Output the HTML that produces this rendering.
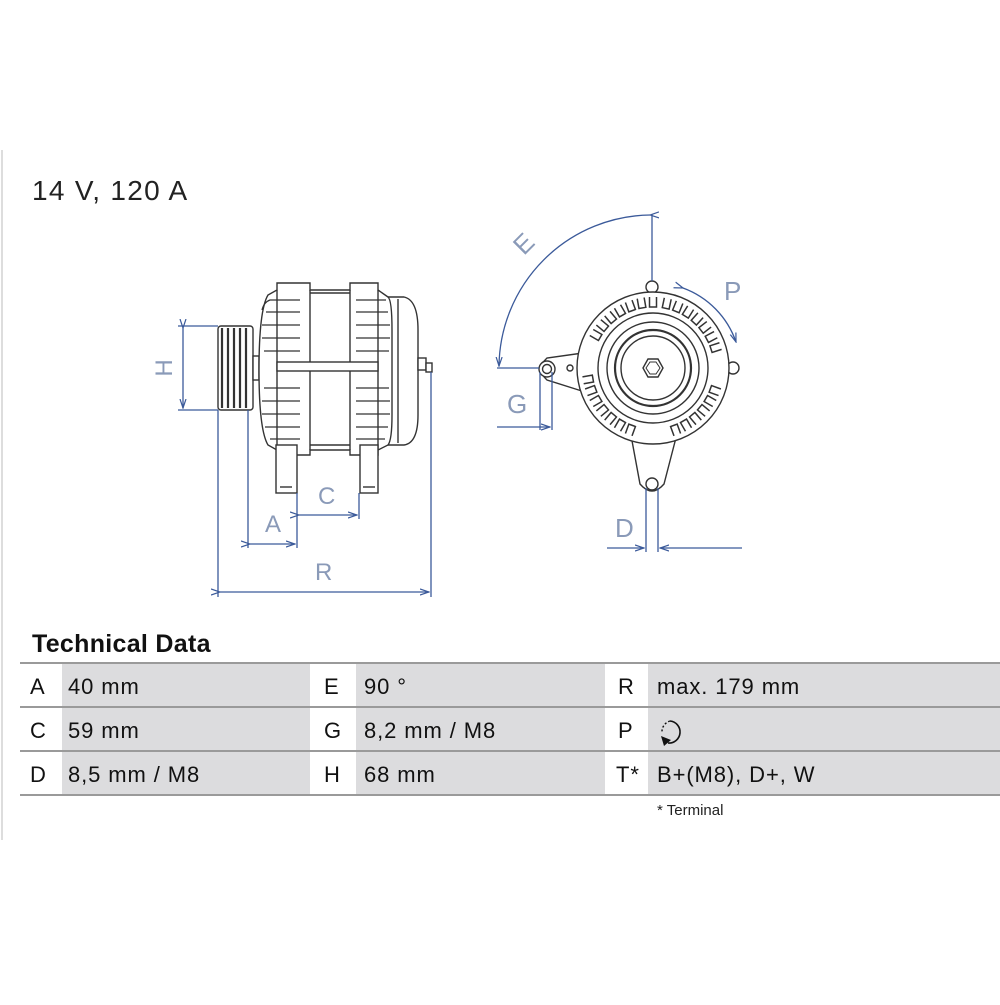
<!DOCTYPE html>
<html><head><meta charset="utf-8"><style>
body{margin:0;background:#fff;width:1000px;height:1000px;overflow:hidden;font-family:"Liberation Sans",sans-serif;}
</style></head><body>
<svg width="1000" height="1000" viewBox="0 0 1000 1000" xmlns="http://www.w3.org/2000/svg" font-family="Liberation Sans, sans-serif">
<defs>
<marker id="ar" markerWidth="10" markerHeight="8" refX="9" refY="4" orient="auto" markerUnits="userSpaceOnUse"><path d="M0,1 L9,4 L0,7" fill="none" stroke="#3b5a9a" stroke-width="1.2"/></marker>
</defs>
<line x1="2" y1="150" x2="2" y2="840" stroke="#ddd" stroke-width="2"/>
<text x="32" y="200" font-size="28" letter-spacing="1.3" fill="#222">14 V, 120 A</text>

<!-- LEFT DRAWING -->
<g stroke="#333" stroke-width="1.4" fill="#fff">
  <rect x="218" y="326" width="35" height="84" rx="3"/>
  <g stroke-width="2.2"><line x1="222" y1="328" x2="222" y2="408"/><line x1="228" y1="328" x2="228" y2="408"/><line x1="234" y1="328" x2="234" y2="408"/><line x1="240" y1="328" x2="240" y2="408"/><line x1="246" y1="328" x2="246" y2="408"/></g>
  <rect x="253" y="356" width="6" height="24"/>
  <path d="M388,297 L404,297 Q418,300 418,330 L418,415 Q418,443 404,445 L388,445 Z"/>
  <line x1="398" y1="299" x2="398" y2="443"/>
  <rect x="418" y="358" width="8" height="12"/><rect x="426" y="363" width="6" height="9"/>
  <path d="M277,290 L277,283 L310,283 L310,290 L350,290 L350,283 L378,283 L378,290 L388,297 Q392,300 392,330 L392,415 Q392,440 388,445 L378,450 L378,455 L350,455 L350,450 L310,450 L310,455 L277,455 L277,450 L268,445 Q259,430 259,370 Q259,310 268,295 Z"/>
  <line x1="310" y1="290" x2="310" y2="450"/><line x1="350" y1="290" x2="350" y2="450"/>
  <line x1="277" y1="290" x2="277" y2="450"/><line x1="378" y1="290" x2="378" y2="450"/>
  <line x1="310" y1="293" x2="350" y2="293"/><line x1="310" y1="445" x2="350" y2="445"/>
  <rect x="277" y="362" width="101" height="9"/>
  <g stroke-width="1.2" fill="none">
    <path d="M300,300 H270 Q264,302 262,310 M300,312 H266 M300,325 H262 M300,338 H262 M300,351 H264"/>
    <path d="M300,388 H264 M300,401 H262 M300,414 H262 M300,427 H265 M300,439 H270"/>
    <path d="M356,300 H386 M356,312 H388 M356,325 H390 M356,338 H390 M356,351 H389"/>
    <path d="M356,388 H389 M356,401 H390 M356,414 H390 M356,427 H388 M356,439 H385"/>
  </g>
  <rect x="276" y="445" width="21" height="48"/><rect x="360" y="445" width="18" height="48"/>
  <line x1="280" y1="487" x2="292" y2="487"/><line x1="363" y1="487" x2="375" y2="487"/>
</g>
<g stroke="#3b5a9a" stroke-width="1.3" fill="none">
  <line x1="178" y1="326" x2="218" y2="326"/><line x1="178" y1="410" x2="218" y2="410"/>
  <line x1="183" y1="328" x2="183" y2="408" marker-end="url(#ar)" marker-start="url(#ar)"/>
  <line x1="218" y1="410" x2="218" y2="597"/><line x1="431" y1="372" x2="431" y2="597"/>
  <line x1="248" y1="410" x2="248" y2="548"/><line x1="297" y1="493" x2="297" y2="548"/>
  <line x1="359" y1="493" x2="359" y2="519"/>
  <line x1="220" y1="592" x2="429" y2="592" marker-end="url(#ar)" marker-start="url(#ar)"/>
  <line x1="250" y1="544" x2="295" y2="544" marker-end="url(#ar)" marker-start="url(#ar)"/>
  <line x1="299" y1="515" x2="357" y2="515" marker-end="url(#ar)" marker-start="url(#ar)"/>
</g>
<g fill="#8a9ab8" font-size="24" font-weight="300">
  <text x="265" y="532">A</text><text x="318" y="504">C</text><text x="315" y="580">R</text>
  <text transform="translate(172,368) rotate(-90)" text-anchor="middle">H</text>
</g>

<!-- RIGHT DRAWING -->
<g stroke="#333" stroke-width="1.4" fill="#fff">
  <path d="M590,352 L547,358 Q535,369 547,380 L585,392 Z"/>
  <path d="M630,430 L640,484 Q652,498 664,484 L678,430 Z"/>
  <circle cx="652" cy="287" r="6"/><circle cx="733" cy="368" r="6"/>
  <circle cx="653" cy="368" r="76"/>
  <circle cx="547" cy="369" r="8"/><circle cx="547" cy="369" r="4.5"/>
  <circle cx="652" cy="484" r="6"/>
  <circle cx="570" cy="368" r="3"/>
  <circle cx="653" cy="368" r="55"/>
  <circle cx="653" cy="368" r="46"/>
  <circle cx="653" cy="368" r="38" stroke-width="2.2"/>
  <circle cx="653" cy="368" r="32"/>
  <polygon points="643,368 648,359 658,359 663,368 658,377 648,377"/>
  <polygon points="646,368 650,362 656,362 660,368 656,374 650,374" fill="none" stroke-width="1"/>
</g>
<g stroke="#333" stroke-width="1.5" fill="none">
  <g transform="translate(653,368)">
    <g id="s"><path d="M-3.5,-71 V-61 H3.5 V-71"/></g>
    <use href="#s" transform="rotate(-60)"/><use href="#s" transform="rotate(-50)"/><use href="#s" transform="rotate(-40)"/><use href="#s" transform="rotate(-30)"/><use href="#s" transform="rotate(-20)"/><use href="#s" transform="rotate(-10)"/>
    <use href="#s" transform="rotate(12)"/><use href="#s" transform="rotate(22)"/><use href="#s" transform="rotate(32)"/><use href="#s" transform="rotate(42)"/><use href="#s" transform="rotate(52)"/><use href="#s" transform="rotate(62)"/><use href="#s" transform="rotate(72)"/>
    <use href="#s" transform="rotate(110)"/><use href="#s" transform="rotate(120)"/><use href="#s" transform="rotate(130)"/><use href="#s" transform="rotate(140)"/><use href="#s" transform="rotate(150)"/><use href="#s" transform="rotate(160)"/>
    <use href="#s" transform="rotate(200)"/><use href="#s" transform="rotate(210)"/><use href="#s" transform="rotate(220)"/><use href="#s" transform="rotate(230)"/><use href="#s" transform="rotate(240)"/><use href="#s" transform="rotate(250)"/><use href="#s" transform="rotate(260)"/>
  </g>
</g>
<g stroke="#3b5a9a" stroke-width="1.3" fill="none">
  <line x1="652" y1="214" x2="652" y2="281"/>
  <line x1="497" y1="368" x2="539" y2="368"/>
  <path d="M650,215 A153,153 0 0 0 499,366" marker-end="url(#ar)" marker-start="url(#ar)"/>
  <line x1="540" y1="372" x2="540" y2="430"/><line x1="552" y1="372" x2="552" y2="430"/>
  <line x1="497" y1="427" x2="550" y2="427" marker-end="url(#ar)"/>
  <line x1="646" y1="488" x2="646" y2="552"/><line x1="658" y1="488" x2="658" y2="552"/>
  <line x1="607" y1="548" x2="644" y2="548" marker-end="url(#ar)"/>
  <line x1="742" y1="548" x2="660" y2="548" marker-end="url(#ar)"/>
  <path d="M683,288 A88,88 0 0 1 736,342" marker-end="url(#ar)" marker-start="url(#ar)"/>
</g>
<g fill="#8a9ab8" font-size="26" font-weight="300">
  <text transform="translate(530,250) rotate(-45)" text-anchor="middle">E</text>
  <text x="507" y="413">G</text><text x="615" y="537">D</text><text x="724" y="300">P</text>
</g>

<!-- TABLE -->
<text x="32" y="652" font-size="25" font-weight="bold" fill="#111" letter-spacing="0.3">Technical Data</text>
<g fill="#dcdcde">
  <rect x="62" y="664" width="248" height="131"/>
  <rect x="356" y="664" width="249" height="131"/>
  <rect x="648" y="664" width="352" height="131"/>
</g>
<g stroke="#9a9a9a" stroke-width="2">
  <line x1="20" y1="663" x2="1000" y2="663"/><line x1="20" y1="707" x2="1000" y2="707"/>
  <line x1="20" y1="751" x2="1000" y2="751"/><line x1="20" y1="795" x2="1000" y2="795"/>
</g>
<g font-size="22" fill="#111" letter-spacing="0.9">
  <text x="30" y="694">A</text><text x="68" y="694">40 mm</text>
  <text x="324" y="694">E</text><text x="364" y="694">90 °</text>
  <text x="618" y="694">R</text><text x="657" y="694">max. 179 mm</text>
  <text x="30" y="738">C</text><text x="68" y="738">59 mm</text>
  <text x="324" y="738">G</text><text x="364" y="738">8,2 mm / M8</text>
  <text x="618" y="738">P</text>
  <text x="30" y="782">D</text><text x="68" y="782">8,5 mm / M8</text>
  <text x="324" y="782">H</text><text x="364" y="782">68 mm</text>
  <text x="616" y="782">T*</text><text x="657" y="782">B+(M8), D+, W</text>
</g>
<path d="M670,721 A11,11 0 1 1 668,743" fill="none" stroke="#111" stroke-width="1.6"/>
<path d="M670,721 A11,11 0 0 0 662,732" fill="none" stroke="#111" stroke-width="1.4" stroke-dasharray="2,2"/>
<path d="M661,736 L664,746 L671,740 Z" fill="#111"/>
<text x="657" y="815" font-size="15" fill="#222">* Terminal</text>
</svg>
</body></html>
